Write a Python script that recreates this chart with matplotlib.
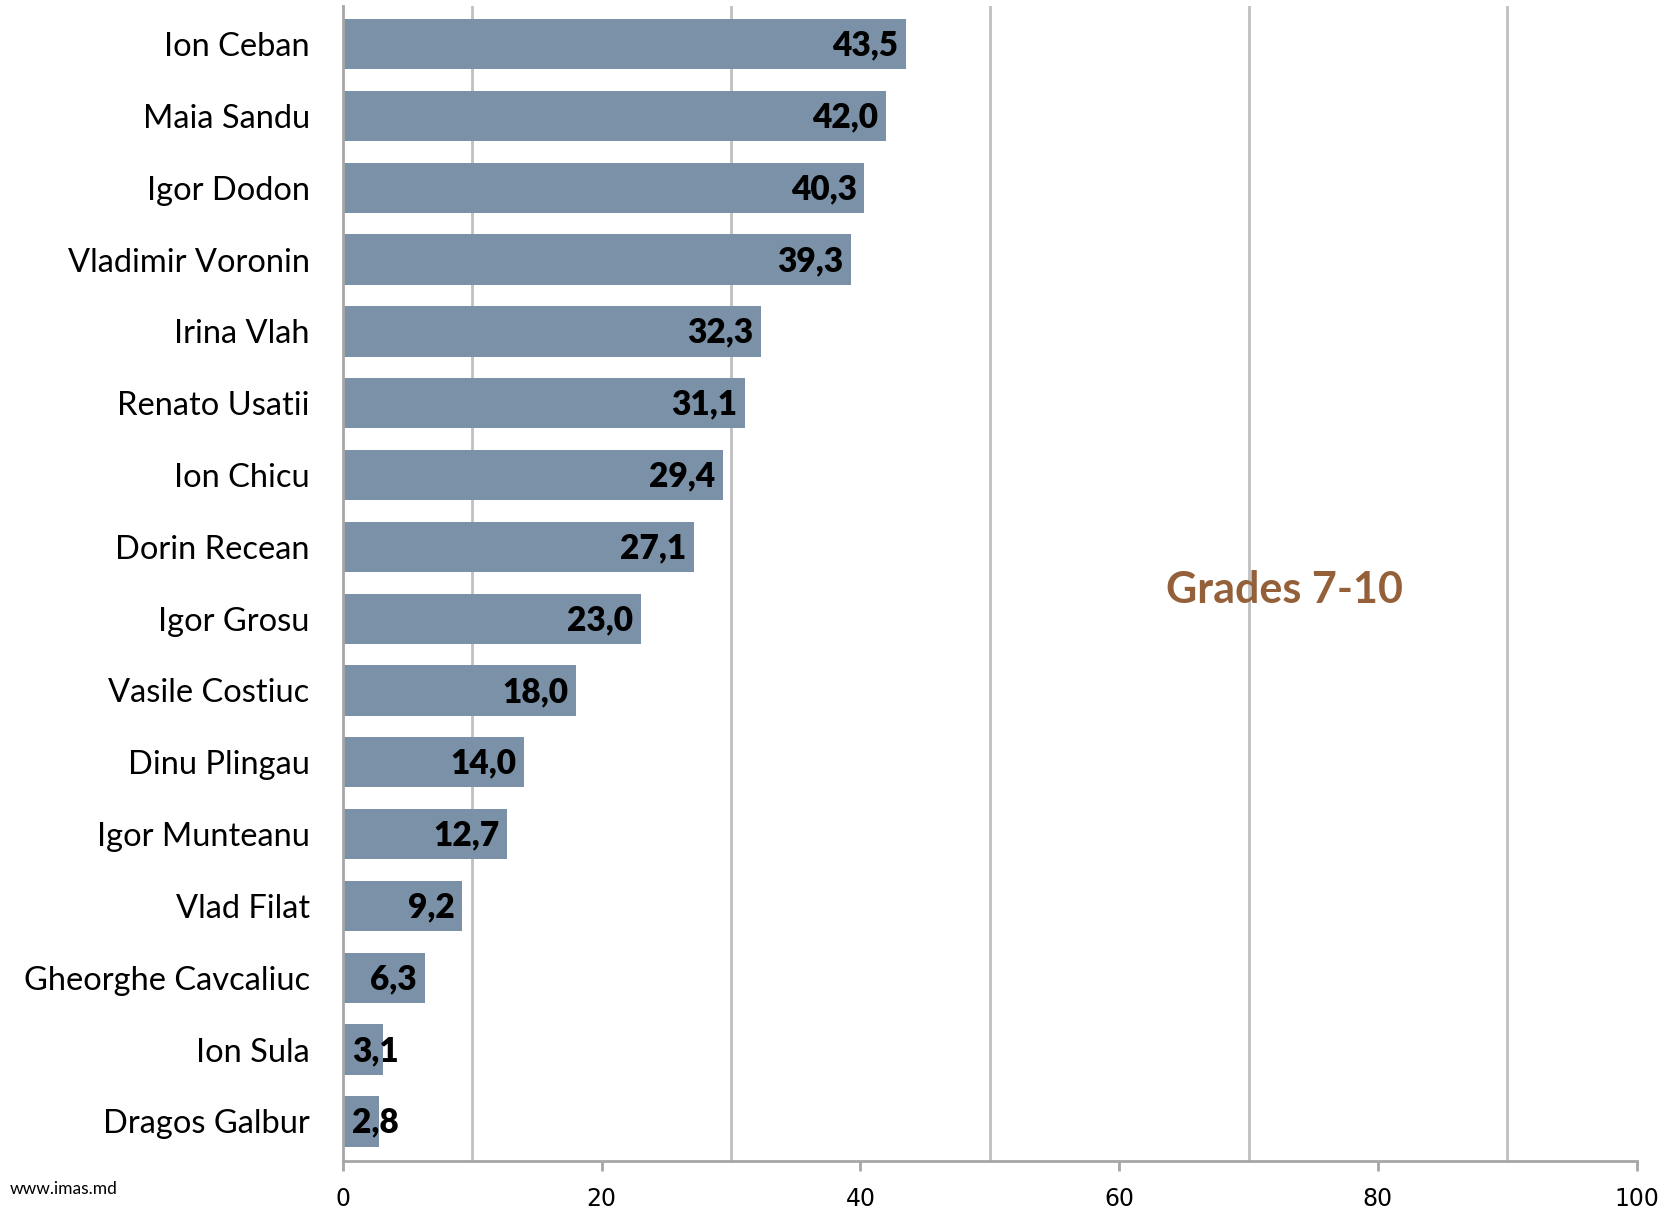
import matplotlib.pyplot as plt

names = ["Ion Ceban", "Maia Sandu", "Igor Dodon", "Vladimir Voronin", "Irina Vlah",
         "Renato Usatii", "Ion Chicu", "Dorin Recean", "Igor Grosu", "Vasile Costiuc",
         "Dinu Plingau", "Igor Munteanu", "Vlad Filat", "Gheorghe Cavcaliuc",
         "Ion Sula", "Dragos Galbur"]
values = [43.5, 42.0, 40.3, 39.3, 32.3, 31.1, 29.4, 27.1, 23.0, 18.0,
          14.0, 12.7, 9.2, 6.3, 3.1, 2.8]
xticks = [0, 20, 40, 60, 80, 100]
grid_x = [10, 30, 50, 70, 90]

font = ["Lato", "DejaVu Sans"]
grey = "#a6a6a6"

fig = plt.figure(figsize=(16.7, 12.08), dpi=100)
ax = fig.add_axes([0.2054, 0.039, 0.7746, 0.956])

pos = list(range(len(names)))
ax.barh(pos, values, height=0.7, color="#7a91a8", zorder=2)

for x in grid_x:
    ax.axvline(x, color="#c0c0c0", lw=2, zorder=1)

for p, v in zip(pos, values):
    lab = f"{v:.1f}".replace(".", ",")
    if v < 5:
        ax.text(0.7, p + 0.02, lab, ha="left", va="center", fontsize=24,
                fontweight="heavy", family=font, zorder=3)
    else:
        ax.text(v - 0.6, p + 0.02, lab, ha="right", va="center", fontsize=24,
                fontweight="heavy", family=font, zorder=3)

ax.set_xlim(0, 100)
ax.set_ylim(15.55, -0.53)
ax.set_yticks(pos)
ax.set_yticklabels(names, fontsize=23.5, family=font)
ax.tick_params(axis="y", length=0, pad=24)
ax.set_xticks(xticks)
ax.set_xticklabels([str(t) for t in xticks], fontsize=17, family=["DejaVu Sans"])
ax.tick_params(axis="x", direction="out", length=7, width=2, color=grey, pad=12)

for s in ["top", "right"]:
    ax.spines[s].set_visible(False)
for s in ["left", "bottom"]:
    ax.spines[s].set_color(grey)
    ax.spines[s].set_linewidth(2)

ax.text(72.8, 7.6, "Grades 7-10", ha="center", va="center", fontsize=31,
        fontweight="bold", color="#94603a", family=font, zorder=3)

fig.text(0.006, 0.012, "www.imas.md", fontsize=12.5, family=font)

fig.savefig("out.png", dpi=100)
